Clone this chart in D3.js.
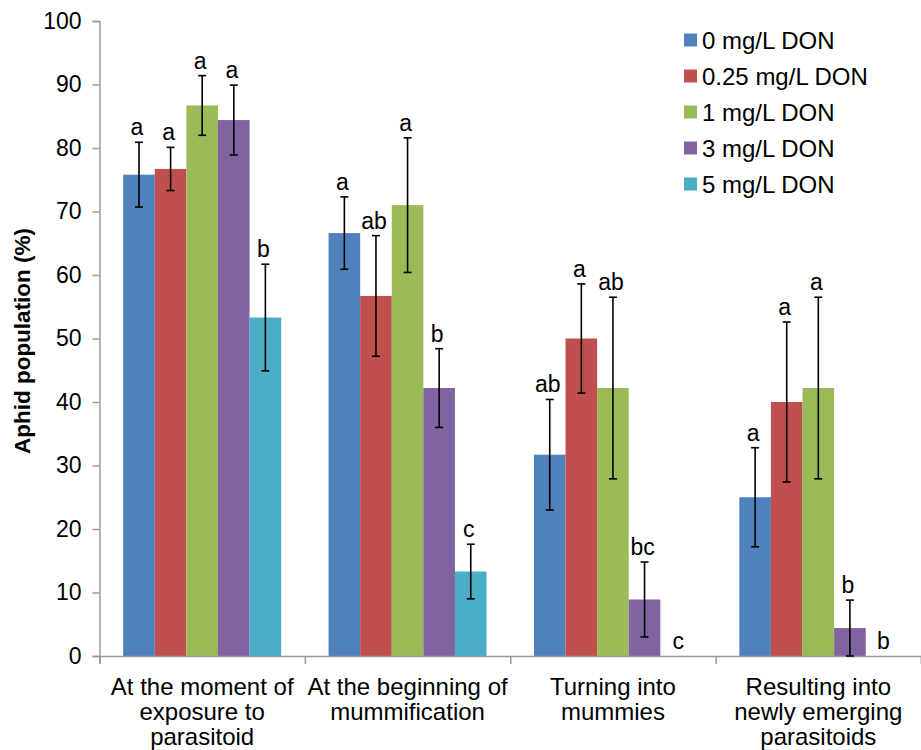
<!DOCTYPE html>
<html>
<head>
<meta charset="utf-8">
<script src="https://cdn.jsdelivr.net/npm/d3@7"></script>
<style>
  body { margin: 0; background: #fff; }
  text { font-family: "Liberation Sans", Arial, sans-serif; fill: #000; }
</style>
</head>
<body>
<div id="chart"></div>
<script>
// chart data
var categories = [
    ["At the moment of", "exposure to", "parasitoid"],
    ["At the beginning of", "mummification"],
    ["Turning into", "mummies"],
    ["Resulting into", "newly emerging", "parasitoids"]
];
var seriesNames = ["0 mg/L DON", "0.25 mg/L DON", "1 mg/L DON", "3 mg/L DON", "5 mg/L DON"];
var seriesColors = ["#4F81BD", "#C0504D", "#9BBB59", "#8064A2", "#4BACC6"];

var means0 = [75.8, 66.6, 31.7, 25.0];
var means1 = [76.7, 56.7, 50.0, 40.0];
var means2 = [86.7, 71.0, 42.2, 42.2];
var means3 = [84.4, 42.2, 8.9, 4.4];
var means4 = [53.3, 13.3, 0, 0];

var err0 = [5.1, 5.7, 8.7, 7.8];
var err1 = [3.4, 9.5, 8.6, 12.6];
var err2 = [4.7, 10.6, 14.3, 14.3];
var err3 = [5.5, 6.2, 5.9, 4.4];
var err4 = [8.4, 4.3, 0, 0];

var letters0 = ["a", "a", "ab", "a"];
var letters1 = ["a", "ab", "a", "a"];
var letters2 = ["a", "a", "ab", "a"];
var letters3 = ["a", "b", "bc", "b"];
var letters4 = ["b", "c", "c", "b"];

var yTicks = [0, 10, 20, 30, 40, 50, 60, 70, 80, 90, 100];

var means = [means0, means1, means2, means3, means4];
var errs = [err0, err1, err2, err3, err4];
var letters = [letters0, letters1, letters2, letters3, letters4];

function drawChart() {
    var width = 921;
    var height = 750;
    var mLeft = 99.5, mRight = 921, mTop = 21, mBottom = 656;
    var axisColor = "#9a9a9a";

    var svg = d3.select("#chart").append("svg")
            .attr("width", width)
            .attr("height", height);

    var catIdx = d3.range(categories.length);
    var x = d3.scaleBand().domain(catIdx).range([mLeft, mRight]).padding(0);
    var xs = d3.scaleBand().domain(d3.range(seriesNames.length))
            .range([0, x.bandwidth()]).paddingInner(0).paddingOuter(0.75);
    var y = d3.scaleLinear().domain([0, 100]).range([mBottom, mTop]);

    // flat table for the marks
    var rows = [];
    for (var s = 0; s < seriesNames.length; ++s) {
        for (var c = 0; c < categories.length; ++c) {
            rows.push({s: s, c: c, v: means[s][c], e: errs[s][c], l: letters[s][c]});
        }
    }

    // bars
    svg.append("g").selectAll("rect")
            .data(rows.filter(function (d) { return d.v > 0; }))
            .enter().append("rect")
            .attr("x", function (d) { return x(d.c) + xs(d.s); })
            .attr("width", xs.bandwidth())
            .attr("y", function (d) { return y(d.v); })
            .attr("height", function (d) { return y(0) - y(d.v); })
            .attr("fill", function (d) { return seriesColors[d.s]; });

    // y axis
    var yAxis = svg.append("g")
            .attr("transform", "translate(" + mLeft + ",0)")
            .call(d3.axisLeft(y).tickValues(yTicks).tickSize(7).tickPadding(11));
    yAxis.select(".domain").attr("stroke", axisColor).attr("stroke-width", 1.5);
    yAxis.selectAll(".tick line").attr("stroke", axisColor).attr("stroke-width", 1.5);
    yAxis.selectAll(".tick text")
            .style("font-family", "'Liberation Sans', Arial, sans-serif")
            .style("font-size", "23px").attr("fill", "#000");

    // x axis (ticks on category boundaries)
    var xb = d3.scaleLinear().domain([0, categories.length]).range([mLeft, mRight]);
    var xAxis = svg.append("g")
            .attr("transform", "translate(0," + mBottom + ")")
            .call(d3.axisBottom(xb).tickValues(d3.range(categories.length + 1))
                    .tickSize(8).tickFormat(""));
    xAxis.select(".domain").attr("stroke", axisColor).attr("stroke-width", 1.5);
    xAxis.selectAll(".tick line").attr("stroke", axisColor).attr("stroke-width", 1.5);

    // category labels
    svg.append("g").selectAll("text")
            .data(catIdx)
            .enter().append("text")
            .attr("text-anchor", "middle")
            .attr("font-size", 24)
            .attr("y", 695)
            .each(function (d) {
                var t = d3.select(this);
                categories[d].forEach(function (line, i) {
                    t.append("tspan")
                            .attr("x", x(d) + x.bandwidth() / 2)
                            .attr("dy", i === 0 ? 0 : 25)
                            .text(line);
                });
            });

    // error bars
    var eb = svg.append("g").attr("stroke", "#000").attr("stroke-width", 1.6);
    rows.filter(function (d) { return d.e > 0; }).forEach(function (d) {
        var cx = x(d.c) + xs(d.s) + xs.bandwidth() / 2;
        var hi = y(d.v + d.e), lo = y(Math.max(0, d.v - d.e));
        eb.append("line").attr("x1", cx).attr("x2", cx).attr("y1", hi).attr("y2", lo);
        eb.append("line").attr("x1", cx - 4).attr("x2", cx + 4).attr("y1", hi).attr("y2", hi);
        eb.append("line").attr("x1", cx - 4).attr("x2", cx + 4).attr("y1", lo).attr("y2", lo);
    });

    // significance letters
    svg.append("g").selectAll("text")
            .data(rows)
            .enter().append("text")
            .attr("text-anchor", "middle")
            .attr("font-size", 23)
            .attr("x", function (d) {
                var cx = x(d.c) + xs(d.s) + xs.bandwidth() / 2;
                return d.v === 0 ? cx + 2 : cx - 2;
            })
            .attr("y", function (d) { return y(d.v + d.e) - 7; })
            .text(function (d) { return d.l; });

    // y axis title
    svg.append("text")
            .attr("transform", "translate(30,341) rotate(-90)")
            .attr("text-anchor", "middle")
            .attr("font-size", 22.5)
            .attr("font-weight", "bold")
            .text("Aphid population (%)");

    // legend
    var legend = svg.append("g").attr("transform", "translate(684,40)");
    seriesNames.forEach(function (name, i) {
        var g = legend.append("g").attr("transform", "translate(0," + (i * 36) + ")");
        g.append("rect")
                .attr("x", 0).attr("y", -6.5)
                .attr("width", 13).attr("height", 13)
                .attr("fill", seriesColors[i]);
        g.append("text")
                .attr("x", 18).attr("y", 8.5)
                .attr("font-size", 24)
                .text(name);
    });
}

drawChart();
</script>
</body>
</html>
